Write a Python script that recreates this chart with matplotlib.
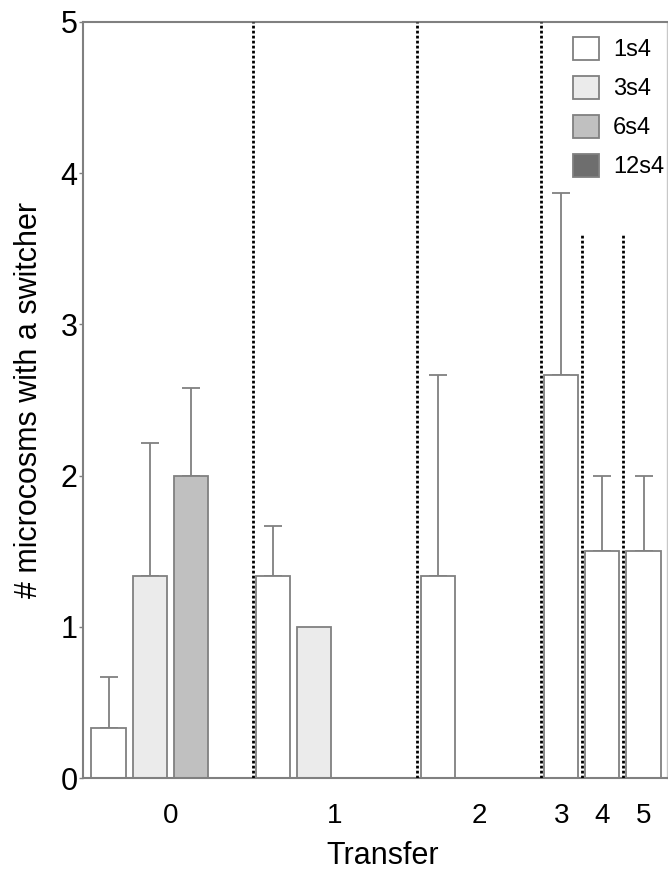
import numpy as np
import matplotlib
matplotlib.use("Agg")
import matplotlib.pyplot as plt
from matplotlib.patches import Patch

plt.rcParams['font.family'] = ['Liberation Sans', 'DejaVu Sans']

transfers = ['0', '1', '2', '3', '4', '5']
strains = ['1s4', '3s4', '6s4', '12s4']
# how many strain lines were still being followed at each transfer
n_lines = [4, 4, 3, 1, 1, 1]

mean_1s4 = [0.333, 1.333, 1.333, 2.667, 1.5, 1.5]
err_1s4 = [0.333, 0.333, 1.333, 1.2, 0.5, 0.5]
mean_3s4 = [1.333, 1.0, 0.0]
err_3s4 = [0.88, 0.0, 0.0]
mean_6s4 = [2.0, 0.0, 0.0]
err_6s4 = [0.577, 0.0, 0.0]
mean_12s4 = [0.0, 0.0]
err_12s4 = [0.0, 0.0]

means = [mean_1s4, mean_3s4, mean_6s4, mean_12s4]
errs = [err_1s4, err_3s4, err_6s4, err_12s4]
fills = ['#ffffff', '#ebebeb', '#c0c0c0', '#6e6e6e']

grey = '#808080'

fig = plt.figure(figsize=(6.68, 8.75), dpi=100)
ax = fig.add_axes([83 / 668, 1 - 778 / 875, 584 / 668, 756 / 875])

starts = np.concatenate([[0], np.cumsum(n_lines)[:-1]])

for k, strain in enumerate(strains):
    xs, hs, es = [], [], []
    for t in range(len(means[k])):
        if means[k][t] > 0:
            xs.append(starts[t] + k)
            hs.append(means[k][t])
            es.append(errs[k][t])
    ax.bar(xs, hs, width=0.83, color=fills[k], edgecolor=grey,
           linewidth=1.3, zorder=2)
    for x, h, e in zip(xs, hs, es):
        if e > 0:
            ax.errorbar(x, h, yerr=[[0], [e]], fmt='none', ecolor=grey,
                        elinewidth=1.3, capsize=6.5, capthick=1.3, zorder=1)

# dotted separators between transfers
bounds = starts[1:] - 0.5
tops = [5, 5, 5, 3.6, 3.6]
for xb, top in zip(bounds, tops):
    ax.plot([xb, xb], [0, top], color='black', linestyle=(0, (1, 0.8)),
            linewidth=2, zorder=3)

centers = starts + (np.array(n_lines) - 1) / 2
ax.set_xticks(centers)
ax.set_xticklabels(transfers, fontsize=20)
ax.tick_params(axis='x', length=0, pad=18)

ax.set_ylim(0, 5)
ax.set_xlim(-0.62, 13.57)
ax.set_yticks([0, 1, 2, 3, 4, 5])
ax.tick_params(axis='y', labelsize=22, length=3, width=1, color=grey, pad=1)

for side in ['left', 'bottom', 'top']:
    ax.spines[side].set_color(grey)
    ax.spines[side].set_linewidth(1.5)
ax.spines['right'].set_color('#c8c8c8')
ax.spines['right'].set_linewidth(1)

ax.set_xlabel('Transfer', fontsize=22, labelpad=9)
ax.xaxis.label.set_x(0.514)
ax.set_ylabel('# microcosms with a switcher', fontsize=22, labelpad=12)

handles = [Patch(facecolor=c, edgecolor=grey, linewidth=1.3) for c in fills]
ax.legend(handles=handles, labels=strains, loc='upper left',
          bbox_to_anchor=(573 / 668, 1 - 37 / 875),
          bbox_transform=fig.transFigure, frameon=False, fontsize=17,
          handlelength=1.1, handleheight=1.1, labelspacing=0.62,
          handletextpad=0.6, borderpad=0, borderaxespad=0)

fig.savefig('out.png', dpi=100)
